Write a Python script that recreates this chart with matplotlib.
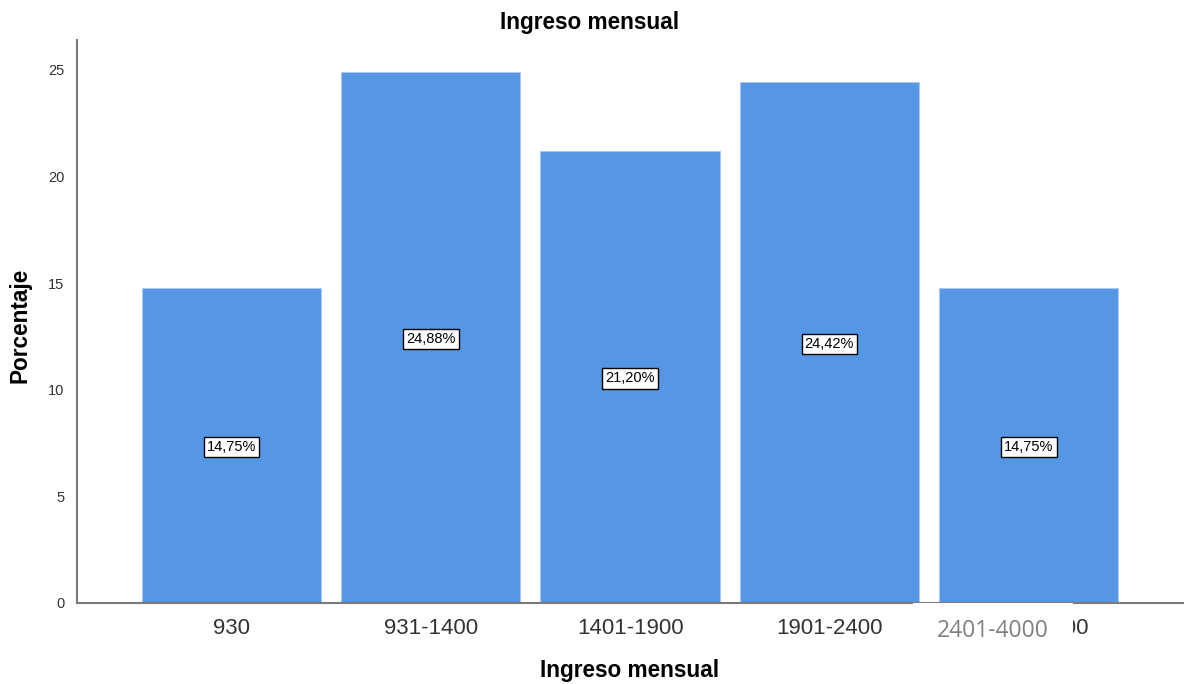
import numpy as np
import matplotlib.pyplot as plt
from matplotlib.patches import Rectangle
from matplotlib.transforms import ScaledTranslation

categories = ['930', '931-1400', '1401-1900', '1901-2400', '2401-4000']
percentages = [14.75, 24.88, 21.20, 24.42, 14.75]

W, H = 1184, 684
fig = plt.figure(figsize=(W / 100, H / 100), dpi=100)
ax = fig.add_axes([77 / W, 81 / H, 1 - 77 / W, (603 - 40) / H])

x = np.arange(len(categories))
ax.bar(x, percentages, width=0.9, color='#5596e5', edgecolor='#a9c9f2', linewidth=0.8, zorder=2)

for xi, v in zip(x, percentages):
    ax.text(xi, v / 2, f'{v:.2f}'.replace('.', ',') + '%', ha='center', va='center_baseline',
            fontsize=10.5, family='Liberation Sans', color='black', zorder=4,
            bbox=dict(boxstyle='square,pad=0.22', fc='white', ec='black', lw=1.0))

ax.set_xlim(-0.775, 4.779)
ax.set_ylim(0, 26.4)
ax.set_xticks(x)
ax.set_xticklabels(categories, fontsize=16, family='Liberation Sans', color='#333333')
ax.set_yticks([0, 5, 10, 15, 20, 25])
ax.tick_params(axis='x', length=0, pad=11)
ax.tick_params(axis='y', length=0, pad=9, labelsize=10.5, labelcolor='#333333')
for lbl in ax.get_yticklabels():
    lbl.set_family('Liberation Sans')
last = ax.get_xticklabels()[-1]
last.set_transform(last.get_transform() + ScaledTranslation(7 / 100, 0, fig.dpi_scale_trans))

for side in ['top', 'right']:
    ax.spines[side].set_visible(False)
for side in ['left', 'bottom']:
    ax.spines[side].set_color('#7a7a7a')
    ax.spines[side].set_linewidth(1.5)

fig.text(590 / W, 1 - 22 / H, 'Ingreso mensual', ha='center', va='center',
         fontsize=16.3, fontweight='bold', family='Liberation Sans')
fig.text(630 / W, 1 - 671 / H, 'Ingreso mensual', ha='center', va='center',
         fontsize=16.3, fontweight='bold', family='Liberation Sans')
fig.text(20 / W, 1 - 325 / H, 'Porcentaje', ha='center', va='center', rotation=90,
         fontsize=16.3, fontweight='bold', family='Liberation Sans')

# relabelled last category on a white patch over the original label
fig.add_artist(Rectangle((913 / W, 1 - 655 / H), (1073 - 913) / W, (655 - 603) / H,
                         transform=fig.transFigure, facecolor='white', edgecolor='none', zorder=2))
fig.text(993 / W, 1 - 631 / H, '2401-4000', ha='center', va='center', fontsize=16.5,
         family='Open Sans', color='#808080', zorder=3)

fig.savefig('out.png', dpi=100)
